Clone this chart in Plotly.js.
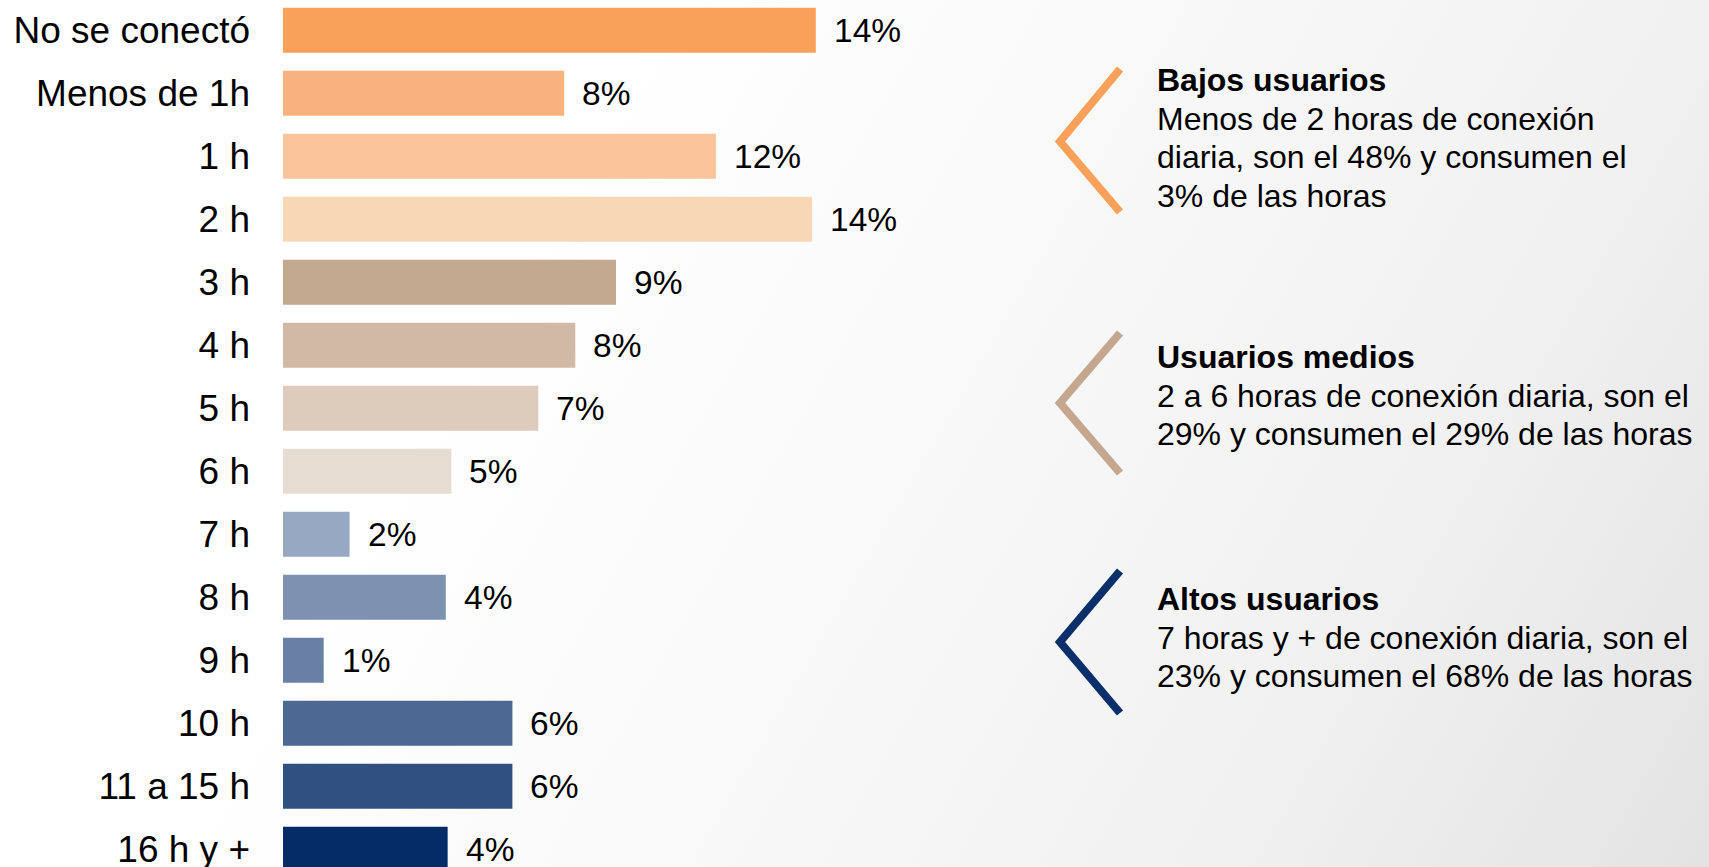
<!DOCTYPE html>
<html>
<head>
<meta charset="utf-8">
<script src="https://cdn.plot.ly/plotly-3.0.1.min.js"></script>
<style>
  html, body { margin: 0; padding: 0; }
  body {
    width: 1709px; height: 867px; overflow: hidden;
    background: linear-gradient(120deg, #ffffff 0%, #ffffff 30%, #f8f8f8 55%, #f1f1f1 77%, #e3e3e3 100%);
  }
  #chart { width: 1709px; height: 867px; }
</style>
</head>
<body>
<div id="chart"></div>
<script>
// data (share of people, %)
var categories = ["No se conectó", "Menos de 1h", "1 h", "2 h", "3 h", "4 h", "5 h", "6 h",
                  "7 h", "8 h", "9 h", "10 h", "11 a 15 h", "16 h y +"];
var shares = [14.4, 7.6, 11.7, 14.3, 9.0, 7.9, 6.9, 4.55, 1.8, 4.4, 1.1, 6.2, 6.2, 4.45];
var shareLabels = ["14%", "8%", "12%", "14%", "9%", "8%", "7%", "5%", "2%", "4%", "1%", "6%", "6%", "4%"];

// user groups on the right
var groupTitles = ["Bajos usuarios", "Usuarios medios", "Altos usuarios"];
var groupLines = [
  ["Menos de 2 horas de conexión", "diaria, son el 48% y consumen el", "3% de las horas"],
  ["2 a 6 horas de conexión diaria, son el", "29% y consumen el 29% de las horas"],
  ["7 horas y + de conexión diaria, son el", "23% y consumen el 68% de las horas"]
];

// styles
var barColors = ["#f9a05a", "#f9b27d", "#fcc49a", "#f7d7b6", "#c4a991", "#d2b9a6", "#ddcbbb",
                 "#e6dcd1", "#97a8c2", "#7d92b1", "#6a7fa6", "#4d6892", "#2f5080", "#062c67"];
var groupColors = ["#f9a05a", "#c4a78e", "#0a2f6b"];
var FONT = "Arial, Liberation Sans, sans-serif";

var W = 1709, H = 867, L = 283;
function px2x(px) { return (px - L) / (W - L); }
function px2y(py) { return 1 - py / H; }

var trace = {
  type: "bar",
  orientation: "h",
  x: shares,
  y: categories,
  marker: { color: barColors },
  hoverinfo: "skip"
};

var annotations = [];
// value labels next to each bar
for (var i = 0; i < categories.length; i++) {
  annotations.push({
    x: shares[i], y: categories[i], xref: "x", yref: "y",
    text: shareLabels[i], showarrow: false,
    xanchor: "left", yanchor: "middle", xshift: 16,
    font: { family: FONT, size: 33.5, color: "#000" }
  });
}

// right side text blocks and chevrons
var blockTop = [80, 357, 599];
var chevrons = [[69, 141.5, 212], [333, 403, 473], [571, 642, 713]];
var shapes = [];
for (var g = 0; g < groupTitles.length; g++) {
  annotations.push({
    x: px2x(1155), y: px2y(blockTop[g]), xref: "paper", yref: "paper",
    text: "<b>" + groupTitles[g] + "</b>", showarrow: false,
    xanchor: "left", yanchor: "middle",
    font: { family: FONT, size: 32, color: "#000" }
  });
  for (var k = 0; k < groupLines[g].length; k++) {
    annotations.push({
      x: px2x(1155), y: px2y(blockTop[g] + 38.6 * (k + 1)), xref: "paper", yref: "paper",
      text: groupLines[g][k], showarrow: false,
      xanchor: "left", yanchor: "middle",
      font: { family: FONT, size: 32, color: "#000" }
    });
  }
  var c = chevrons[g];
  shapes.push({
    type: "path", xref: "paper", yref: "paper",
    path: "M " + px2x(1120) + " " + px2y(c[0]) +
          " L " + px2x(1060) + " " + px2y(c[1]) +
          " L " + px2x(1120) + " " + px2y(c[2]),
    line: { color: groupColors[g], width: 8 }
  });
}

var layout = {
  width: W, height: H,
  margin: { l: L, r: 0, t: 0, b: 0 },
  paper_bgcolor: "rgba(0,0,0,0)",
  plot_bgcolor: "rgba(0,0,0,0)",
  showlegend: false,
  bargap: 0.286,
  xaxis: {
    range: [0, (W - L) / 37],
    showgrid: false, zeroline: false, showline: false, showticklabels: false
  },
  yaxis: {
    type: "category",
    range: [13.283, -0.479],
    showgrid: false, zeroline: false, showline: false,
    ticks: "", ticklabelstandoff: 32,
    tickfont: { family: FONT, size: 37, color: "#000" }
  },
  annotations: annotations,
  shapes: shapes
};

Plotly.newPlot("chart", [trace], layout, { displayModeBar: false, staticPlot: true });
</script>
</body>
</html>
